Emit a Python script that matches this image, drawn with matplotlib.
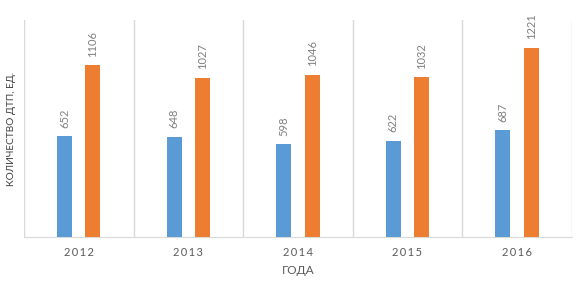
import numpy as np
from matplotlib import pyplot as plt

years = ["2012", "2013", "2014", "2015", "2016"]
series_a = [652, 648, 598, 622, 687]
series_b = [1106, 1027, 1046, 1032, 1221]

plt.rcParams['font.family'] = ['Lato', 'DejaVu Sans']

fig = plt.figure(figsize=(5.84, 2.92), dpi=100)
ax = fig.add_axes([0.041, 0.188, 0.938, 0.744])

x = np.arange(len(years))
w = 0.137
off = 0.13
bars_a = ax.bar(x - off, series_a, w, color="#5B9BD5", zorder=3)
bars_b = ax.bar(x + off, series_b, w, color="#ED7D31", zorder=3)

for bars in (bars_a, bars_b):
    for b in bars:
        ax.annotate(str(int(b.get_height())), (b.get_x() + b.get_width() / 2, b.get_height()),
                    xytext=(0, 6), textcoords="offset points", rotation=90,
                    ha="center", va="bottom", fontsize=8, color="#7F7F7F")

ax.set_xlim(-0.5, len(years) - 0.5)
ax.set_ylim(0, 1400)

# category separators
for b in np.arange(-0.5, len(years), 1.0):
    ax.axvline(b, color="#D9D9D9", linewidth=1, zorder=1)

ax.set_xticks(x)
ax.set_xticklabels(["\u2009".join(y) for y in years], fontsize=8, color="#595959")
ax.tick_params(axis="x", length=0, pad=7)
ax.set_yticks([])
for s in ["top", "right", "left"]:
    ax.spines[s].set_visible(False)
ax.spines["bottom"].set_color("#D9D9D9")

ax.set_xlabel("ГОДА", fontsize=8.5, color="#595959", labelpad=5)
ax.set_ylabel("КОЛИЧЕСТВО ДТП, ЕД.", fontsize=7.3, color="#404040", labelpad=6)

plt.savefig("out.png", dpi=100)
